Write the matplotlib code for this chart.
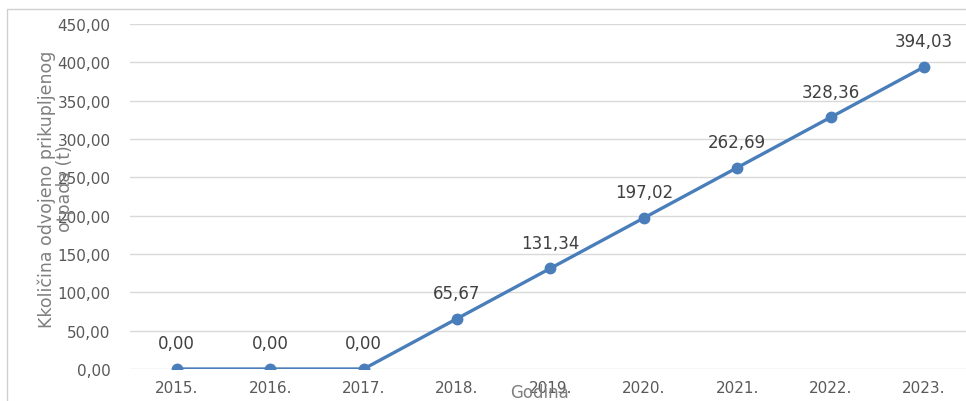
import matplotlib.pyplot as plt
from matplotlib.patches import Rectangle

years = ['2015.', '2016.', '2017.', '2018.', '2019.', '2020.', '2021.', '2022.', '2023.']
amounts = [0.00, 0.00, 0.00, 65.67, 131.34, 197.02, 262.69, 328.36, 394.03]
y_ticks = [0, 50, 100, 150, 200, 250, 300, 350, 400, 450]

plt.rcParams['font.family'] = ['DejaVu Sans']

fig = plt.figure(figsize=(9.66, 4.02), dpi=100)
ax = fig.add_axes([0.1346, 0.0796, 0.8704, 0.8582])

x = list(range(len(years)))
ax.plot(x, amounts, color='#4a7ebb', linewidth=2.4, marker='o', markersize=7.5, zorder=3)

for xi, v in zip(x, amounts):
    ax.annotate(f'{v:.2f}'.replace('.', ','), (xi, v), xytext=(0, 12), textcoords='offset points',
                ha='center', va='bottom', fontsize=12, color='#404040')

ax.set_xlim(-0.5, len(years) - 0.5)
ax.set_ylim(0, 450)
ax.set_yticks(y_ticks)
ax.set_yticklabels([f'{t:.2f}'.replace('.', ',') for t in y_ticks])
ax.set_xticks(x)
ax.set_xticklabels(years)
ax.tick_params(length=0, labelsize=11, colors='#595959')
ax.tick_params(axis='y', pad=14)
ax.tick_params(axis='x', pad=8)
ax.grid(axis='y', color='#d9d9d9', linewidth=1)
ax.set_axisbelow(True)
for s in ax.spines.values():
    s.set_visible(False)
ax.set_clip_on(False)

fig.text(0.058, 0.53, 'Kkoličina odvojeno prikupljenog\notpada (t)', rotation=90,
         ha='center', va='center', fontsize=12.5, color='#7f7f7f', linespacing=1.0)
fig.text(0.559, 0.022, 'Godina', ha='center', va='center', fontsize=12, color='#7f7f7f')

fig.patches.append(Rectangle((7 / 966, -0.1), 1.2, 1 - 10 / 402 + 0.1, transform=fig.transFigure,
                             fill=False, edgecolor='#d0d0d0', linewidth=1))

fig.savefig('out.png', dpi=100)
